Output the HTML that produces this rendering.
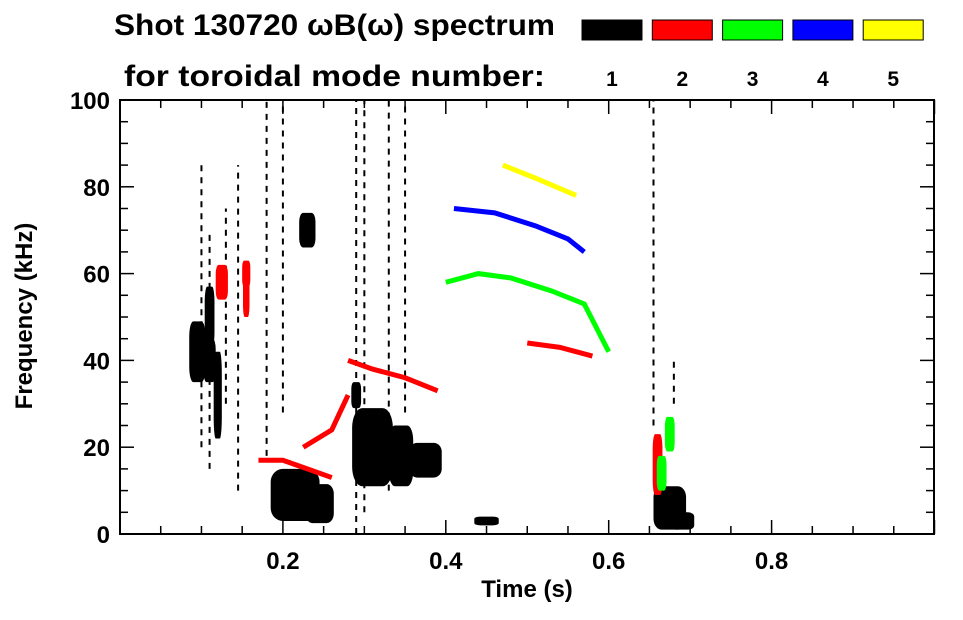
<!DOCTYPE html>
<html><head><meta charset="utf-8"><style>
body{margin:0;background:#fff;width:963px;height:615px;overflow:hidden}
svg{font-family:"Liberation Sans",sans-serif;font-weight:bold}
</style></head><body>
<svg id="c" width="963" height="615">
<text x="114" y="35" font-size="30" textLength="441" lengthAdjust="spacingAndGlyphs">Shot 130720 ωB(ω) spectrum</text>
<text x="124" y="86" font-size="30" textLength="421" lengthAdjust="spacingAndGlyphs">for toroidal mode number:</text>
<g id="legend"></g>
<g id="marks"></g>
<g id="axes"></g>
<text x="527" y="597" font-size="24" text-anchor="middle">Time (s)</text>
<text transform="translate(32,316) rotate(-90)" font-size="24" text-anchor="middle">Frequency (kHz)</text>
</svg>
<script>
const modes=[1,2,3,4,5];
const modeColors=["#000","#f00","#0f0","#00f","#ff0"];
const xTicks=[0.2,0.4,0.6,0.8];
const yTicks=[0,20,40,60,80,100];
// blobs: time centre, freq centre, time width, freq height, mode
const blobT=[0.095,0.11,0.12,0.215,0.245,0.23,0.31,0.345,0.375,0.675,0.69,0.155,0.125,0.155,0.66,0.665,0.675,0.45,0.29,0.11];
const blobF=[42,50,32,9,7,70,20,18,17,6,3,56,58,60,16,14,23,3,32,40];
const blobW=[0.02,0.012,0.01,0.06,0.035,0.02,0.05,0.03,0.04,0.04,0.03,0.008,0.015,0.01,0.012,0.012,0.012,0.03,0.012,0.015];
const blobH=[14,14,20,12,9,8,18,14,8,10,4,12,8,6,14,8,8,2,6,10];
const blobM=[1,1,1,1,1,1,1,1,1,1,1,2,2,2,2,3,3,1,1,1];
// ridge lines
const lineT=[[0.17,0.2,0.23,0.26],[0.28,0.31,0.35,0.39],[0.5,0.54,0.58],[0.4,0.44,0.48,0.53,0.57,0.6],[0.41,0.46,0.51,0.55,0.57],[0.47,0.51,0.56],[0.225,0.26,0.28]];
const lineF=[[17,17,15,13],[40,38,36,33],[44,43,41],[58,60,59,56,53,42],[75,74,71,68,65],[85,82,78],[20,24,32]];
const lineM=[2,2,2,3,4,5,2];
// vertical streaks: time, fmin, fmax
const streakT=[0.1,0.11,0.13,0.145,0.18,0.2,0.29,0.3,0.33,0.35,0.655,0.68];
const streakLo=[20,15,30,10,18,28,0,5,10,28,25,30];
const streakHi=[85,70,75,85,100,100,100,100,100,100,100,40];
const X=t=>120+t*814.5, Y=f=>534-f*4.34;
const NS="http://www.w3.org/2000/svg";
function mk(tag,a,p){const e=document.createElementNS(NS,tag);for(const k in a)e.setAttribute(k,a[k]);p.appendChild(e);return e;}
const marks=document.getElementById('marks'),axes=document.getElementById('axes'),leg=document.getElementById('legend');
modes.forEach((m,i)=>{
 const r=mk('rect',{x:582+i*70.3,y:20,width:60,height:20,fill:modeColors[i],stroke:'#000','stroke-width':1},leg);
 
 
 const t=mk('text',{x:612+i*70.3,y:86,'font-size':21,'text-anchor':'middle'},leg);t.textContent=m;
 
 
});
streakT.forEach((t,i)=>{
 const l=mk('line',{x1:X(t),x2:X(t),y1:Y(streakLo[i]),y2:Y(streakHi[i]),stroke:'#000','stroke-width':2,'stroke-dasharray':'6 6'},marks);
 
 
});
blobT.forEach((t,i)=>{
 const w=blobW[i]*814.5,h=blobH[i]*4.34;
 const e=mk('rect',{x:X(t)-w/2,y:Y(blobF[i])-h/2,width:w,height:h,rx:w/4,ry:h/4,fill:modeColors[blobM[i]-1]},marks);
 
 
});
lineT.forEach((ts,i)=>{
 const p=mk('polyline',{points:ts.map((t,j)=>X(t)+','+Y(lineF[i][j])).join(' '),fill:'none',stroke:modeColors[lineM[i]-1],'stroke-width':5},marks);
 
 
});
mk('rect',{x:120,y:100,width:814,height:434,fill:'none',stroke:'#000','stroke-width':2},axes);
for(let k=0;k<=20;k++){const x=X(k*0.05),L=k%4==0?14:8;
 mk('line',{x1:x,x2:x,y1:534,y2:534-L,stroke:'#000','stroke-width':1.5},axes);
 mk('line',{x1:x,x2:x,y1:100,y2:100+L,stroke:'#000','stroke-width':1.5},axes);}
for(let k=0;k<=20;k++){const y=Y(k*5),L=k%4==0?14:8;
 mk('line',{x1:120,x2:120+L,y1:y,y2:y,stroke:'#000','stroke-width':1.5},axes);
 mk('line',{x1:934,x2:934-L,y1:y,y2:y,stroke:'#000','stroke-width':1.5},axes);}
xTicks.forEach(v=>{const t=mk('text',{x:X(v),y:569,'font-size':24,'text-anchor':'middle'},axes);t.textContent=v.toFixed(1);
 
 });
yTicks.forEach(v=>{const t=mk('text',{x:110,y:Y(v)+9,'font-size':24,'text-anchor':'end'},axes);t.textContent=v;
 
 });
</script>
</body></html>
